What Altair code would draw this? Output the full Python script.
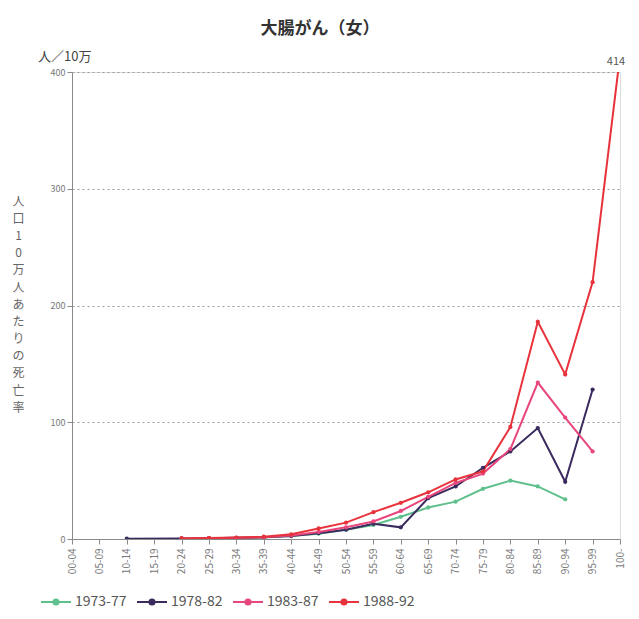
import altair as alt
import pandas as pd

categories = ["00-04", "05-09", "10-14", "15-19", "20-24", "25-29", "30-34", "35-39",
              "40-44", "45-49", "50-54", "55-59", "60-64", "65-69", "70-74", "75-79",
              "80-84", "85-89", "90-94", "95-99", "100-"]

series_names = ["1973-77", "1978-82", "1983-87", "1988-92"]
colors = ["#5fc08c", "#3a2a5e", "#e8467c", "#e8323c"]

v1973 = [None, None, None, None, 0.3, 0.5, 0.8, 1.2, 2.5, 4.5, 8, 12, 19, 27, 32, 43, 50, 45, 34, None, None]
v1978 = [None, None, 0.3, None, 0.5, 0.7, 1.0, 1.5, 2.5, 5, 8, 13, 10, 35, 45, 61, 75, 95, 49, 128, None]
v1983 = [None, None, None, None, 0.5, 0.7, 1.0, 1.5, 3, 6, 10, 15, 24, 36, 48, 56, 77, 134, 104, 75, None]
v1988 = [None, None, None, None, 0.5, 0.8, 1.2, 2.0, 4, 9, 14, 23, 31, 40, 51, 58, 96, 186, 141, 220, 414]

title_text = "大腸がん（女）"
unit_text = "人／10万"
y_title_chars = ["人", "口", "1", "0", "万", "人", "あ", "た", "り", "の", "死", "亡", "率"]
y_ticks = [0, 100, 200, 300, 400]

rows = []
for name, vals in zip(series_names, [v1973, v1978, v1983, v1988]):
    for i, (c, v) in enumerate(zip(categories, vals)):
        if v is not None:
            rows.append({"age": c, "idx": i, "rate": v, "period": name})
df = pd.DataFrame(rows)

peak_df = pd.DataFrame({"age": [categories[-1]], "rate": [v1988[-1]], "label": [str(v1988[-1])]})

FONT = "Noto Sans CJK JP"

x_scale = alt.Scale(type="point", domain=categories, padding=0)
x_enc = alt.X("age:N", scale=x_scale,
              axis=alt.Axis(title=None, labelAngle=-90, labelFontSize=10, labelColor="#777",
                            domainColor="#8a8a8a", tickColor="#8a8a8a", tickSize=5,
                            labelPadding=4, grid=False))
y_enc = alt.Y("rate:Q", scale=alt.Scale(domain=[0, 400], nice=False),
              axis=alt.Axis(values=y_ticks, title=y_title_chars, titleAngle=0,
                            titleX=-54, titleY=124, titleAlign="center", titleBaseline="top",
                            titleFontSize=12, titleFontWeight="normal", titleColor="#666",
                            titleLineHeight=17.2,
                            labelFontSize=9, labelColor="#777", domainColor="#8a8a8a",
                            tickColor="#8a8a8a", tickSize=5,
                            grid=True, gridColor="#9a9a9a", gridDash=[2, 3], gridWidth=1))

legend = alt.Legend(title=None, orient="none", legendX=-32, legendY=514, direction="horizontal",
                    labelFontSize=14, labelColor="#555", labelFont=FONT,
                    symbolType="M-1,0H1M-0.17,0A0.17,0.17,0,1,0,0.17,0A0.17,0.17,0,1,0,-0.17,0Z",
                    symbolSize=900, symbolStrokeWidth=2, columnPadding=6, labelOffset=3)

color_enc = alt.Color("period:N", sort=series_names,
                      scale=alt.Scale(domain=series_names, range=colors), legend=legend)

base = alt.Chart(df)
lines = base.mark_line(strokeWidth=2, clip=True).encode(x=x_enc, y=y_enc, color=color_enc,
                                                        order=alt.Order("idx:Q"))
points = base.mark_point(filled=True, size=18, opacity=1, clip=True).encode(x=x_enc, y=y_enc, color=color_enc)

peak = alt.Chart(peak_df).mark_text(fontSize=11, color="#555", baseline="middle", dy=6, dx=-4,
                                    font=FONT).encode(
    x=alt.X("age:N", scale=x_scale), y=alt.Y("rate:Q"), text="label:N")

unit = alt.Chart(pd.DataFrame({"t": [unit_text]})).mark_text(
    fontSize=13, color="#444", align="left", baseline="middle", font=FONT).encode(
    x=alt.value(-34), y=alt.value(-15), text="t:N")

chart = alt.layer(lines, points, peak, unit).properties(
    width=548, height=467,
    title=alt.TitleParams(title_text, fontSize=17, fontWeight="bold", color="#333", font=FONT,
                          anchor="middle", dx=-26, offset=13),
    autosize=alt.AutoSizeParams(type="none"),
    padding={"left": 64, "top": 64, "right": 11, "bottom": 72},
).configure_view(stroke=None).configure(font=FONT)

chart.save("out.html", embed_options={"renderer": "svg", "actions": False})
